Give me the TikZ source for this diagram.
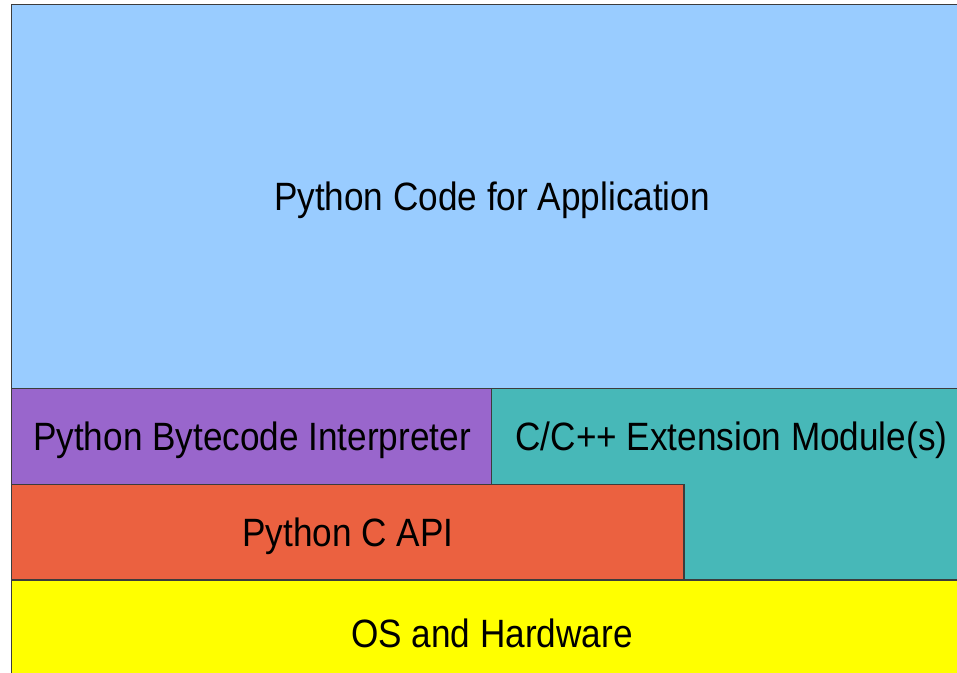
\documentclass[tikz,border=0pt]{standalone}
\usepackage{fontspec}
\setmainfont{Liberation Sans}[FakeStretch=0.89]
\definecolor{cblue}{RGB}{153,204,255}
\definecolor{cpurple}{RGB}{153,102,204}
\definecolor{cteal}{RGB}{71,184,184}
\definecolor{cred}{RGB}{235,97,64}
\definecolor{cyellow}{RGB}{255,255,0}
\definecolor{cline}{RGB}{60,60,60}
\tikzset{
  layer/.style={draw=cline, line width=1.3pt},
  lbl/.style={font=\fontsize{39.5}{40}\selectfont, text=black, inner sep=0pt}
}
\begin{document}
\begin{tikzpicture}[x=1pt,y=-1pt]
\useasboundingbox (0,0) rectangle (957,672);
\clip (0,0) rectangle (957,672);
\fill[white] (0,0) rectangle (957,672);
\path[layer, fill=cblue] (11.5,4.5) rectangle (972,388.5);
\path[layer, fill=cpurple] (11.5,388.5) rectangle (491.5,484.5);
\path[layer, fill=cteal] (491.5,388.5) rectangle (972,580);
\path[layer, fill=cred] (11.5,484.5) rectangle (684,580);
\path[layer, fill=cyellow] (11.5,580) rectangle (972,690);
\node[lbl] (app) at (492,200) {Python Code for Application};
\node[lbl] (interp) at (252,440) {Python Bytecode Interpreter};
\node[lbl] (ext) at (731.5,440) {C/C++ Extension Module(s)};
\node[lbl] (capi) at (348,536) {Python C API};
\node[lbl] (os) at (492,633) {OS and Hardware};
\end{tikzpicture}
\end{document}
